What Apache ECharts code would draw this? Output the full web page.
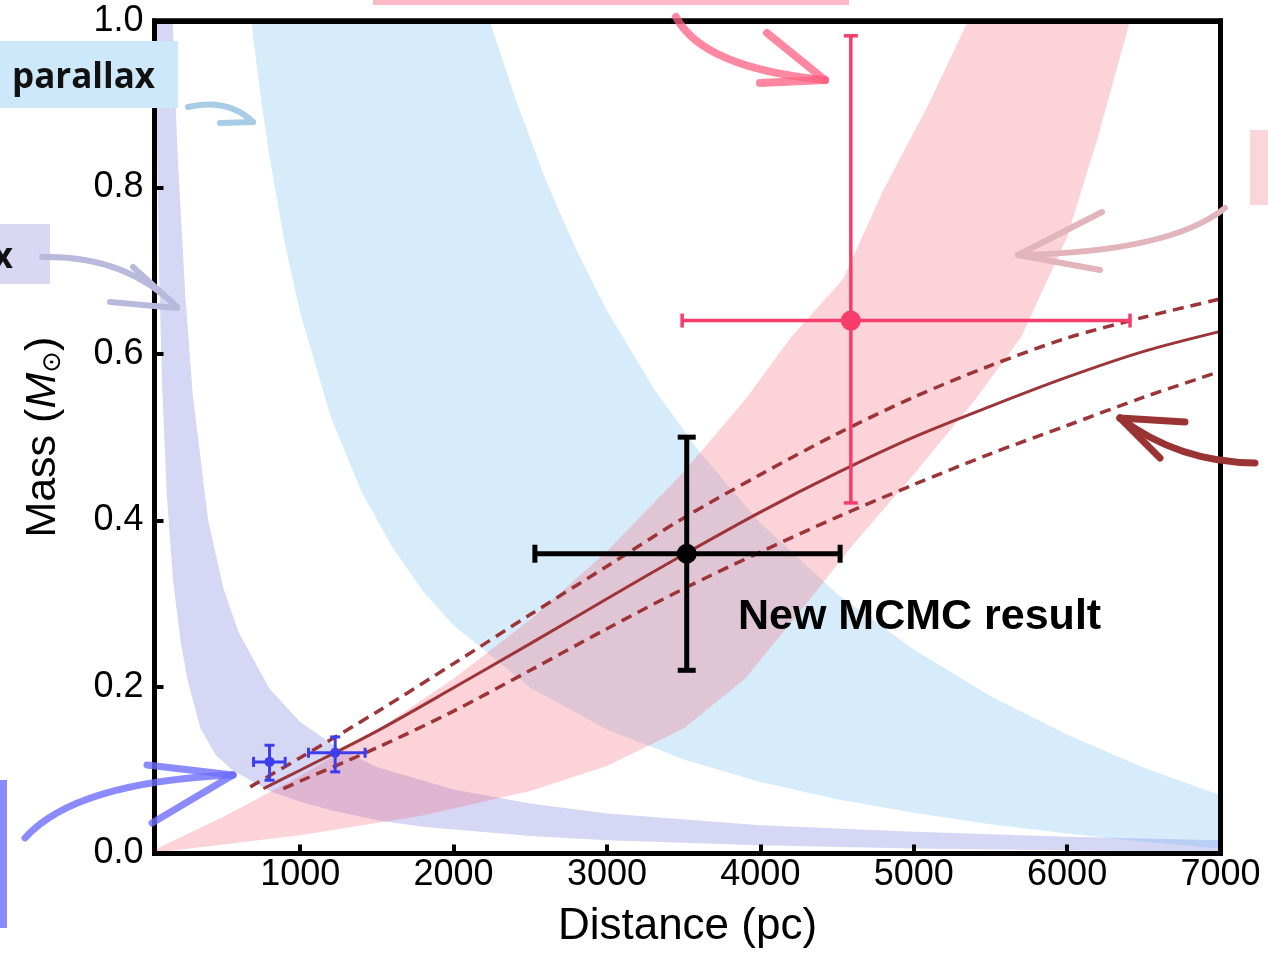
<!DOCTYPE html>
<html>
<head>
<meta charset="utf-8">
<script src="https://cdn.jsdelivr.net/npm/echarts@6/dist/echarts.min.js"></script>
<style>
  html, body { margin: 0; padding: 0; background: #fff; }
  #chart { width: 1268px; height: 966px; }
</style>
</head>
<body>
<div id="chart"></div>
<script>
// Axis ticks
const xTicks = [1000, 2000, 3000, 4000, 5000, 6000, 7000];
const yTicks = [0, 0.2, 0.4, 0.6, 0.8, 1.0];

// Constraint bands, each as two edges of [distance (pc), mass (Msun)]
const lavenderInner = [[52,1.077],[60,0.933],[80,0.70],[100,0.56],[130,0.431],[170,0.329],[220,0.255],[264,0.210],[350,0.150],[450,0.118],[560,0.100],[800,0.075],[1000,0.062],[1200,0.052],[1500,0.040],[1800,0.032],[2500,0.021],[3000,0.016],[4000,0.010],[5000,0.006],[6000,0.004],[7000,0.002],[7100,0.002]];
const lavenderOuter = [[160,1.054],[180,0.935],[200,0.842],[250,0.672],[300,0.550],[400,0.400],[500,0.318],[600,0.265],[800,0.198],[1000,0.158],[1250,0.126],[1500,0.104],[2000,0.077],[2500,0.060],[3000,0.048],[4000,0.034],[5000,0.026],[6000,0.020],[7000,0.016],[7100,0.016]];

const blueInner = [[650,1.052],[700,0.970],[750,0.899],[800,0.836],[900,0.732],[1000,0.649],[1200,0.524],[1400,0.434],[1600,0.368],[1800,0.315],[2000,0.274],[2500,0.199],[3000,0.149],[3500,0.113],[4000,0.086],[4500,0.065],[5000,0.049],[5500,0.035],[6000,0.024],[6500,0.014],[7000,0.006],[7100,0.004]];
const blueOuter = [[2150,1.056],[2250,0.992],[2400,0.908],[2600,0.809],[2800,0.725],[3000,0.652],[3300,0.560],[3600,0.483],[4000,0.397],[4500,0.312],[5000,0.245],[5500,0.189],[6000,0.143],[6500,0.103],[7000,0.070],[7100,0.063]];

const pinkUpper = [[0,0],[500,0.044],[1000,0.093],[1500,0.148],[2000,0.210],[2500,0.281],[3000,0.363],[3500,0.458],[3900,0.545],[4200,0.620],[4540,0.690],[4800,0.796],[5100,0.901],[5380,1.010],[5500,1.065]];
const pinkLower = [[0,0],[1000,0.022],[1780,0.045],[2500,0.075],[3000,0.105],[3500,0.150],[3900,0.210],[4300,0.300],[4600,0.370],[5000,0.455],[5400,0.545],[5700,0.620],[6000,0.740],[6200,0.860],[6410,1.000],[6600,1.130]];

// Mass-distance model: median and bounds
const modelMid  = [[760,0.078],[1000,0.100],[1500,0.147],[2000,0.199],[2500,0.252],[3000,0.306],[3500,0.359],[4000,0.410],[4500,0.457],[5000,0.500],[5500,0.537],[6000,0.572],[6500,0.603],[7000,0.627]];
const modelHigh = [[674,0.080],[1000,0.115],[1500,0.170],[2000,0.228],[2500,0.287],[3000,0.345],[3500,0.403],[4000,0.455],[4500,0.504],[5000,0.548],[5500,0.586],[6000,0.619],[6500,0.644],[7000,0.666]];
const modelLow  = [[890,0.078],[1000,0.087],[1500,0.127],[2000,0.171],[2500,0.220],[3000,0.270],[3500,0.318],[4000,0.362],[4500,0.404],[5000,0.443],[5500,0.480],[6000,0.514],[6500,0.548],[7000,0.579]];

// Estimates: [distance, mass, distLow, distHigh, massLow, massHigh]
const mcmcResult = [[3520, 0.360, 2530, 4520, 0.220, 0.500]];
const pinkEstimate = [[4590, 0.640, 3490, 6410, 0.421, 0.982]];
const blueEstimates = [[800, 0.110, 696, 902, 0.088, 0.130], [1228, 0.121, 1054, 1423, 0.098, 0.140]];

const FONT = "'Liberation Sans', Arial, Helvetica, sans-serif";

function bandSeries(name, lower, upper, color) {
  const ring = lower.concat(upper.slice().reverse());
  return {
    name, type: 'custom', clip: true, silent: true, z: 1,
    data: ring, encode: { x: 0, y: 1 },
    renderItem(params, api) {
      if (params.dataIndex !== 0) return null;
      return {
        type: 'polygon',
        shape: { points: ring.map(p => api.coord(p)) },
        style: { fill: color, stroke: null }
      };
    }
  };
}

function errorSeries(name, data, color, lw, cap, r) {
  return {
    name, type: 'custom', clip: false, silent: true, z: 6,
    data, encode: { x: 0, y: 1 },
    renderItem(params, api) {
      const c = api.coord([api.value(0), api.value(1)]);
      const xl = api.coord([api.value(2), api.value(1)])[0];
      const xh = api.coord([api.value(3), api.value(1)])[0];
      const yl = api.coord([api.value(0), api.value(4)])[1];
      const yh = api.coord([api.value(0), api.value(5)])[1];
      const st = { stroke: color, lineWidth: lw, fill: null };
      return {
        type: 'group',
        children: [
          { type: 'line', shape: { x1: xl, y1: c[1], x2: xh, y2: c[1] }, style: st },
          { type: 'line', shape: { x1: c[0], y1: yl, x2: c[0], y2: yh }, style: st },
          { type: 'line', shape: { x1: xl, y1: c[1] - cap, x2: xl, y2: c[1] + cap }, style: st },
          { type: 'line', shape: { x1: xh, y1: c[1] - cap, x2: xh, y2: c[1] + cap }, style: st },
          { type: 'line', shape: { x1: c[0] - cap, y1: yl, x2: c[0] + cap, y2: yl }, style: st },
          { type: 'line', shape: { x1: c[0] - cap, y1: yh, x2: c[0] + cap, y2: yh }, style: st },
          { type: 'circle', shape: { cx: c[0], cy: c[1], r }, style: { fill: color } }
        ]
      };
    }
  };
}

function modelLine(name, data, dashed, width) {
  return {
    name, type: 'line', data, smooth: 0.3, symbol: 'none', silent: true, z: 4,
    lineStyle: { color: '#9d3438', width, type: dashed ? [11, 7] : 'solid' }
  };
}

function arrow(path, heads, color, width) {
  const st = { stroke: color, lineWidth: width, lineCap: 'round', fill: null };
  const els = [{ type: 'bezierCurve', shape: path, style: st, z: 50 }];
  heads.forEach(h => els.push({ type: 'line', shape: { x1: h[0], y1: h[1], x2: h[2], y2: h[3] }, style: st, z: 50 }));
  return els;
}

const axisLineStyle = { color: '#000', width: 5 };

const option = {
  backgroundColor: '#fff',
  animation: false,
  grid: { left: 154.5, right: 47.5, top: 20.8, bottom: 112.5, show: true, borderColor: '#000', borderWidth: 5, backgroundColor: 'transparent' },
  xAxis: [{
    type: 'value', min: 50, max: 7000, position: 'bottom', z: 10,
    axisLine: { show: true, onZero: false, lineStyle: axisLineStyle },
    axisTick: { show: true, inside: true, length: 9, customValues: xTicks, lineStyle: { color: '#000', width: 4 } },
    axisLabel: { customValues: xTicks, fontSize: 36, fontFamily: FONT, color: '#000', margin: 4, formatter: v => String(v) },
    splitLine: { show: false },
    name: 'Distance (pc)', nameLocation: 'middle', nameGap: 51,
    nameTextStyle: { fontSize: 44, fontFamily: FONT, color: '#000' }
  }, {
    type: 'value', min: 50, max: 7000, position: 'top', z: 10,
    axisLine: { show: true, onZero: false, lineStyle: axisLineStyle },
    axisTick: { show: false }, axisLabel: { show: false }, splitLine: { show: false }
  }],
  yAxis: [{
    type: 'value', min: 0, max: 1, interval: 0.2, position: 'left', z: 10,
    axisLine: { show: true, onZero: false, lineStyle: axisLineStyle },
    axisTick: { show: true, inside: true, length: 9, customValues: yTicks, lineStyle: { color: '#000', width: 4 } },
    axisLabel: { customValues: yTicks, fontSize: 36, fontFamily: FONT, color: '#000', margin: 11, formatter: v => v.toFixed(1) },
    splitLine: { show: false },
    name: 'Mass ({it|M}{sub|⊙})', nameLocation: 'middle', nameGap: 88,
    nameTextStyle: {
      fontSize: 43, fontFamily: FONT, color: '#000',
      rich: {
        it: { fontSize: 43, fontStyle: 'italic', fontFamily: FONT, color: '#000' },
        sub: { fontSize: 26, fontFamily: "'DejaVu Sans', " + FONT, color: '#000', padding: [20, 0, 0, 0] }
      }
    }
  }, {
    type: 'value', min: 0, max: 1, position: 'right', z: 10,
    axisLine: { show: true, onZero: false, lineStyle: axisLineStyle },
    axisTick: { show: false }, axisLabel: { show: false }, splitLine: { show: false }
  }],
  series: [
    bandSeries('lavender parallax', lavenderInner, lavenderOuter, 'rgba(118,118,222,0.30)'),
    bandSeries('blue parallax', blueInner, blueOuter, 'rgba(110,185,240,0.28)'),
    bandSeries('finite source', pinkLower, pinkUpper, 'rgba(245,110,125,0.30)'),
    modelLine('model high', modelHigh, true, 3.5),
    modelLine('model low', modelLow, true, 3.5),
    modelLine('model', modelMid, false, 3),
    errorSeries('previous estimate', pinkEstimate, '#f83c6c', 3.5, 7, 10),
    errorSeries('earlier estimates', blueEstimates, '#3c3cf0', 3, 5, 5),
    errorSeries('New MCMC result', mcmcResult, '#000', 5, 9, 10)
  ],
  graphic: [
    { type: 'rect', shape: { x: 373, y: -60, width: 476, height: 65 }, style: { fill: '#fbb8c6' }, z: 40 },
    { type: 'rect', shape: { x: -10, y: 41, width: 188, height: 67 }, style: { fill: '#cde8fa' }, z: 40 },
    { type: 'text', x: 12, y: 78, style: { text: 'parallax', fontSize: 35, fontWeight: 'bold', fontFamily: "'Open Sans', 'Noto Sans', sans-serif", fill: '#111', verticalAlign: 'middle', align: 'left' }, z: 41 },
    { type: 'rect', shape: { x: -10, y: 224, width: 60, height: 60 }, style: { fill: '#d8d8f5' }, z: 40 },
    { type: 'text', x: 13, y: 258, style: { text: 'x', fontSize: 35, fontWeight: 'bold', fontFamily: "'Open Sans', 'Noto Sans', sans-serif", fill: '#111', verticalAlign: 'middle', align: 'right' }, z: 41 },
    { type: 'rect', shape: { x: 1250, y: 130, width: 30, height: 75 }, style: { fill: '#fcd5da' }, z: 40 },
    { type: 'rect', shape: { x: -10, y: 780, width: 17, height: 148 }, style: { fill: '#8b8bff' }, z: 40 },
    { type: 'text', x: 738, y: 617, style: { text: 'New MCMC result', fontSize: 43, fontWeight: 'bold', fontFamily: FONT, fill: '#000', verticalAlign: 'middle', align: 'left' }, z: 41 },
    ...arrow({ x1: 676, y1: 17, cpx1: 703, cpy1: 68, x2: 825, y2: 80 }, [[767, 33, 825, 80], [760, 83, 825, 80]], 'rgba(255,95,130,0.75)', 8),
    ...arrow({ x1: 188, y1: 107, cpx1: 228, cpy1: 98, x2: 253, y2: 122 }, [[220, 123, 253, 122]], '#a8cce6', 6),
    ...arrow({ x1: 42, y1: 257, cpx1: 125, cpy1: 255, x2: 177, y2: 307 }, [[133, 267, 177, 307], [110, 302, 177, 308]], '#b9b9dd', 6),
    ...arrow({ x1: 1225, y1: 208, cpx1: 1170, cpy1: 252, x2: 1018, y2: 255 }, [[1102, 212, 1018, 255], [1100, 270, 1018, 255]], '#e2b4bc', 6),
    ...arrow({ x1: 1255, y1: 463, cpx1: 1178, cpy1: 462, x2: 1120, y2: 418 }, [[1185, 422, 1120, 418], [1160, 458, 1120, 418]], '#9a3434', 7),
    ...arrow({ x1: 25, y1: 838, cpx1: 75, cpy1: 782, x2: 233, y2: 775 }, [[147, 765, 233, 775], [152, 823, 233, 775]], 'rgba(110,110,255,0.8)', 7)
  ]
};

const chart = echarts.init(document.getElementById('chart'), null, { renderer: 'canvas' });
chart.setOption(option);
</script>
</body>
</html>
